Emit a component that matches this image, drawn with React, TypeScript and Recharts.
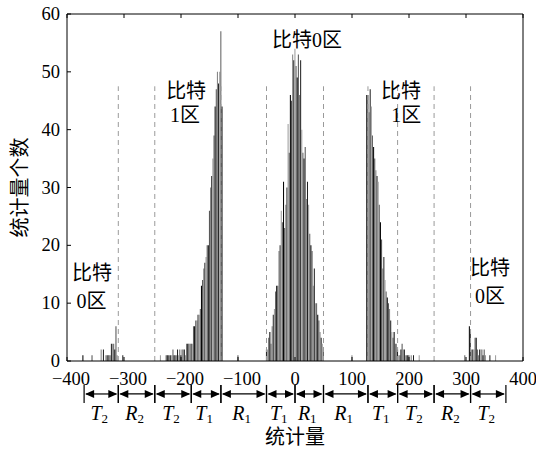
import React from 'react';
import { ComposedChart, Bar, Cell, XAxis, YAxis, ReferenceLine, ReferenceDot } from 'recharts';

const BIN_WIDTH = 2;

// histogram counts, contiguous bins of BIN_WIDTH starting at *Start
const outerLeftStart = -372;
const outerLeftCounts = [1, 0, 0, 0, 0, 0, 0, 0, 1, 0, 0, 0, 0, 0, 0, 0, 2, 0, 2, 0, 1, 1, 1, 1, 1, 3, 3, 3, 2, 6, 1, 0, 0, 0, 0, 1];
const innerLeftStart = -236;
const innerLeftCounts = [1, 0, 0, 0, 0, 1, 1, 1, 1, 1, 1, 2, 1, 1, 1, 2, 1, 2, 1, 2, 2, 2, 1, 3, 3, 3, 3, 3, 3, 6, 6, 7, 7, 8, 8, 9, 13, 14, 16, 17, 18, 20, 20, 26, 30, 32, 35, 39, 44, 47, 50, 48, 50, 57, 44];
const centerStart = -50;
const centerCounts = [2, 2, 4, 5, 3, 6, 8, 9, 12, 13, 13, 19, 20, 26, 24, 31, 23, 27, 30, 41, 36, 46, 45, 53, 52, 54, 51, 49, 53, 46, 52, 40, 36, 35, 37, 28, 31, 27, 22, 20, 19, 13, 16, 10, 10, 8, 7, 5, 4, 3, 2];
const innerRightStart = 126;
const innerRightCounts = [46, 46, 43, 47, 44, 39, 37, 35, 33, 32, 31, 27, 24, 21, 16, 18, 14, 12, 11, 10, 9, 7, 5, 4, 5, 3, 3, 2, 1, 1, 2, 3, 2, 2, 1, 1, 1, 1, 0, 1, 0, 1, 0, 0, 0, 0, 1];
const outerRightStart = 298;
const outerRightCounts = [1, 0, 0, 0, 6, 5, 2, 2, 2, 4, 4, 2, 1, 2, 2, 2, 1, 2, 1, 0, 0, 0, 1, 0, 0, 0, 0, 1];
const strayX = [-100, 100];
const strayCounts = [1, 1];

const xTicks = [-400, -300, -200, -100, 0, 100, 200, 300, 400];
const yTicks = [0, 10, 20, 30, 40, 50, 60];

// dashed region boundaries
const dashX = [-310, -246, -130, -50, 50, 128, 180, 244, 308];
const dashTop = 47.5;

// arrow row under the axis
const segBounds = [-370, -310, -246, -182, -130, -50, 0, 50, 128, 180, 244, 308, 370];
const segLetters = ['T', 'R', 'T', 'T', 'R', 'T', 'R', 'R', 'T', 'T', 'R', 'T'];
const segSubs = ['2', '2', '2', '1', '1', '1', '1', '1', '1', '2', '2', '2'];
const arrowY = -5.7;

// region annotations
const annoText = ['比特0区', '比特', '1区', '比特', '1区', '比特', '0区', '比特', '0区'];
const annoX = [21, -191, -193, 186, 195, -356, -357, 342, 342];
const annoY = [55.5, 46.7, 42.6, 46.7, 42.6, 15.2, 10.4, 16.1, 11.2];

const expand = (start: number, counts: number[]) =>
  counts.map((c, i) => ({ x: start + i * BIN_WIDTH, count: c }));

const data = [
  ...expand(outerLeftStart, outerLeftCounts),
  ...expand(innerLeftStart, innerLeftCounts),
  ...strayX.map((x, i) => ({ x, count: strayCounts[i] })),
  ...expand(centerStart, centerCounts),
  ...expand(innerRightStart, innerRightCounts),
  ...expand(outerRightStart, outerRightCounts),
].filter((d) => d.count > 0);

const palette = ['#000000', '#505050', '#808080', '#202020', '#9c9c9c', '#606060'];

const SERIF = "'Liberation Serif', 'Times New Roman', 'Noto Sans CJK SC', serif";
const CJK = "'Liberation Serif', 'Noto Sans CJK SC', sans-serif";

const fmt = (v: number) => (v < 0 ? '\u2212' + Math.abs(v) : String(v));

const BottomTick = (p: any) => {
  const v = p.payload.value;
  return (
    <g>
      <line x1={p.x} x2={p.x} y1={p.y} y2={p.y - 4} stroke="#000" />
      <text x={p.x + (v < 0 ? 4 : 0)} y={p.y + 24} textAnchor="middle" fontFamily={SERIF} fontSize={18.5} fill="#000">
        {fmt(v)}
      </text>
    </g>
  );
};

const TopTick = (p: any) => (
  <line x1={p.x} x2={p.x} y1={p.y} y2={p.y + 4} stroke="#000" />
);

const LeftTick = (p: any) => (
  <g>
    <line x1={p.x} x2={p.x + 4} y1={p.y} y2={p.y} stroke="#000" />
    <text x={p.x - 7} y={p.y + 6} textAnchor="end" fontFamily={SERIF} fontSize={18.5} fill="#000">
      {fmt(p.payload.value)}
    </text>
  </g>
);

const RightTick = (p: any) => (
  <line x1={p.x} x2={p.x - 4} y1={p.y} y2={p.y} stroke="#000" />
);

const ArrowSeg = (p: any) => {
  const { x1, x2, y1, letter, sub } = p;
  const y = y1;
  const ah = 9;
  const hw = 4;
  const mid = (x1 + x2) / 2;
  return (
    <g>
      <line x1={x1} x2={x1} y1={y - 9} y2={y + 9} stroke="#000" strokeWidth={1.2} />
      <line x1={x2} x2={x2} y1={y - 9} y2={y + 9} stroke="#000" strokeWidth={1.2} />
      <line x1={x1 + 2} x2={x2 - 2} y1={y} y2={y} stroke="#000" strokeWidth={1.2} />
      <polygon points={`${x1 + 1},${y} ${x1 + 1 + ah},${y - hw} ${x1 + 1 + ah},${y + hw}`} fill="#000" />
      <polygon points={`${x2 - 1},${y} ${x2 - 1 - ah},${y - hw} ${x2 - 1 - ah},${y + hw}`} fill="#000" />
      <text x={mid - 2} y={y + 26} textAnchor="middle" fontFamily={SERIF} fontSize={20} fill="#000">
        <tspan fontStyle="italic">{letter}</tspan>
        <tspan fontSize={13} dy={3}>{sub}</tspan>
      </text>
    </g>
  );
};

const AnnoText = (p: any) => (
  <text x={p.cx} y={p.cy} textAnchor="middle" dominantBaseline="central" fontFamily={CJK} fontSize={20} fill="#000">
    {p.text}
  </text>
);

export default function App() {
  return (
    <div style={{ position: 'absolute', left: 0, top: 0, background: '#fff' }}>
      <ComposedChart
        width={536}
        height={451}
        data={data}
        margin={{ top: 14, right: 13, bottom: 60, left: 7 }}
      >
        <XAxis
          dataKey="x"
          type="number"
          domain={[-400, 400]}
          ticks={xTicks}
          interval={0}
          height={30}
          tickSize={0}
          tickMargin={0}
          tickLine={false}
          axisLine={{ stroke: '#000' }}
          tick={BottomTick}
          label={{
            content: (lp: any) => (
              <text
                x={lp.viewBox.x + lp.viewBox.width / 2}
                y={lp.viewBox.y + 76}
                textAnchor="middle"
                dominantBaseline="central"
                fontFamily={CJK}
                fontSize={20}
                fill="#000"
              >
                统计量
              </text>
            ),
          }}
        />
        <XAxis
          xAxisId="top"
          orientation="top"
          type="number"
          dataKey="x"
          domain={[-400, 400]}
          ticks={xTicks}
          interval={0}
          mirror
          tickSize={0}
          tickMargin={0}
          tickLine={false}
          axisLine={{ stroke: '#000' }}
          tick={TopTick}
        />
        <YAxis
          type="number"
          domain={[0, 60]}
          ticks={yTicks}
          interval={0}
          width={60}
          tickSize={0}
          tickMargin={0}
          tickLine={false}
          axisLine={{ stroke: '#000' }}
          tick={LeftTick}
          label={{
            content: (lp: any) => {
              const cx = lp.viewBox.x + 13;
              const cy = lp.viewBox.y + lp.viewBox.height / 2;
              return (
                <text
                  x={cx}
                  y={cy}
                  transform={`rotate(-90, ${cx}, ${cy})`}
                  textAnchor="middle"
                  dominantBaseline="central"
                  fontFamily={CJK}
                  fontSize={20}
                  fill="#000"
                >
                  统计量个数
                </text>
              );
            },
          }}
        />
        <YAxis
          yAxisId="right"
          orientation="right"
          type="number"
          domain={[0, 60]}
          ticks={yTicks}
          interval={0}
          mirror
          tickSize={0}
          tickMargin={0}
          tickLine={false}
          axisLine={{ stroke: '#000' }}
          tick={RightTick}
        />
        <Bar dataKey="count" barSize={1.2} isAnimationActive={false}>
          {data.map((d, i) => (
            <Cell key={i} fill={palette[i % palette.length]} />
          ))}
        </Bar>
        {dashX.map((x) => (
          <ReferenceLine
            key={'d' + x}
            segment={[{ x, y: 0 }, { x, y: dashTop }]}
            stroke="#9a9a9a"
            strokeWidth={1}
            strokeDasharray="5 4"
            ifOverflow="visible"
          />
        ))}
        {segLetters.map((letter, i) => (
          <ReferenceLine
            key={'s' + i}
            segment={[{ x: segBounds[i], y: arrowY }, { x: segBounds[i + 1], y: arrowY }]}
            ifOverflow="visible"
            stroke="#000"
            shape={(p: any) => <ArrowSeg {...p} letter={letter} sub={segSubs[i]} />}
          />
        ))}
        {annoText.map((t, i) => (
          <ReferenceDot
            key={'a' + i}
            x={annoX[i]}
            y={annoY[i]}
            r={0}
            ifOverflow="visible"
            shape={(p: any) => <AnnoText {...p} text={t} />}
          />
        ))}
      </ComposedChart>
    </div>
  );
}
